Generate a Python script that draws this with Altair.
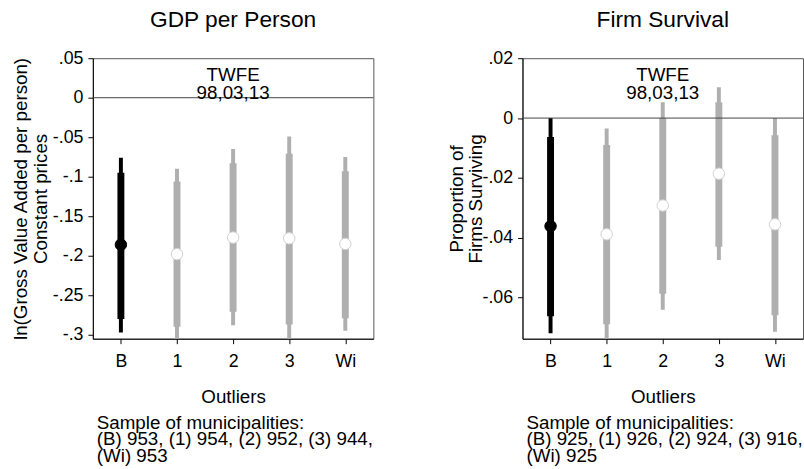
import altair as alt
import pandas as pd

cats = ["B", "1", "2", "3", "Wi"]
groups = ["base", "alt", "alt", "alt", "alt"]

# GDP per Person
gdp_coef = [-0.186, -0.198, -0.177, -0.178, -0.185]
gdp_lo95 = [-0.297, -0.307, -0.288, -0.308, -0.295]
gdp_hi95 = [-0.076, -0.090, -0.065, -0.049, -0.075]
gdp_lo90 = [-0.280, -0.290, -0.271, -0.287, -0.279]
gdp_hi90 = [-0.095, -0.106, -0.083, -0.071, -0.093]
gdp_ticks = [0.05, 0, -0.05, -0.1, -0.15, -0.2, -0.25, -0.3]
gdp_domain = [-0.305, 0.05]
gdp_notes = ["Sample of municipalities:", " (B) 953, (1) 954, (2) 952, (3) 944,", " (Wi) 953"]

# Firm Survival
firm_coef = [-0.0361, -0.0388, -0.0292, -0.0186, -0.0355]
firm_lo95 = [-0.0719, -0.0742, -0.0640, -0.0474, -0.0714]
firm_hi95 = [0.0000, -0.0035, 0.0053, 0.0103, 0.0000]
firm_lo90 = [-0.0662, -0.0689, -0.0587, -0.0430, -0.0659]
firm_hi90 = [-0.0063, -0.0090, 0.0000, 0.0053, -0.0057]
firm_ticks = [0.02, 0, -0.02, -0.04, -0.06]
firm_domain = [-0.0737, 0.02]
firm_notes = ["Sample of municipalities:", " (B) 925, (1) 926, (2) 924, (3) 916,", " (Wi) 925"]

annot = ["TWFE", "98,03,13"]
FONT = "Liberation Sans"
GREY = "#afafaf"
W = 284
H = 284


def panel(title, ytitle, coef, lo95, hi95, lo90, hi90, domain, ticks, notes, title_x, title_lh):
    df = pd.DataFrame({"cat": cats, "grp": groups, "coef": coef,
                       "lo95": lo95, "hi95": hi95, "lo90": lo90, "hi90": hi90})
    yscale = alt.Scale(domain=domain, nice=False, zero=False)
    xenc = alt.X("cat:N", sort=cats, scale=alt.Scale(type="point", padding=0.5),
                 axis=alt.Axis(title="Outliers", labelAngle=0, titleY=59,
                               titleBaseline="middle"))
    color = alt.Color("grp:N", scale=alt.Scale(domain=["base", "alt"], range=["black", GREY]),
                      legend=None)
    yaxis = alt.Axis(values=ticks, title=ytitle, format=".2~f",
                     labelExpr="replace(replace(datum.label, '0.', '.'), '\u2212', '-')",
                     titleX=title_x, titleBaseline="middle", titleLineHeight=title_lh)
    base = alt.Chart(df)
    thin = base.mark_rule(strokeWidth=4, clip=True).encode(
        x=xenc, y=alt.Y("lo95:Q", scale=yscale, axis=yaxis), y2="hi95:Q", color=color)
    thick = base.mark_rule(strokeWidth=7, clip=True).encode(
        x=xenc, y=alt.Y("lo90:Q", scale=yscale), y2="hi90:Q", color=color)
    zero = alt.Chart(pd.DataFrame({"v": [0]})).mark_rule(color="#444", strokeWidth=1).encode(
        y=alt.Y("v:Q", scale=yscale))
    pts = base.mark_circle(size=135, opacity=1, strokeWidth=1).encode(
        x=xenc, y=alt.Y("coef:Q", scale=yscale),
        fill=alt.Fill("grp:N", scale=alt.Scale(domain=["base", "alt"], range=["black", "white"]), legend=None),
        stroke=alt.Stroke("grp:N", scale=alt.Scale(domain=["base", "alt"], range=["black", "#d0d0d0"]), legend=None))
    one = alt.Chart(pd.DataFrame({"a": [0]}))
    txt = one.mark_text(fontSize=19, lineHeight=18.5, baseline="middle", align="center", color="black").encode(
        x=alt.value(W / 2), y=alt.value(17), text=alt.value(annot))
    note = one.mark_text(fontSize=19, lineHeight=17, baseline="middle", align="left", color="black").encode(
        x=alt.value(4), y=alt.value(369), text=alt.value(notes))
    return alt.layer(thin, thick, zero, pts, txt, note).properties(
        width=W, height=H,
        title=alt.Title(title, fontSize=23, fontWeight="normal", anchor="middle", offset=18, color="black"))


left = panel("GDP per Person", ["ln(Gross Value Added per person)", "Constant prices"],
             gdp_coef, gdp_lo95, gdp_hi95, gdp_lo90, gdp_hi90, gdp_domain, gdp_ticks, gdp_notes,
             -73, 20)
right = panel("Firm Survival", ["Proportion of", "Firms Surviving"],
              firm_coef, firm_lo95, firm_hi95, firm_lo90, firm_hi90, firm_domain, firm_ticks, firm_notes,
              -67, 19)

chart = alt.hconcat(left, right, spacing=151, bounds="flush").configure(
    font=FONT, padding={"left": 11, "top": 5, "right": 0, "bottom": 0}
).configure_view(stroke="#555", strokeWidth=1).configure_axis(
    grid=False, domainColor="black", domainWidth=1, tickColor="black", tickSize=5,
    labelFont=FONT, labelFontSize=18, labelColor="black", labelPadding=5,
    titleFont=FONT, titleFontSize=19, titleFontWeight="normal", titleColor="black"
).configure_axisX(labelPadding=9).configure_title(font=FONT)

chart.save("out.html", embed_options={"renderer": "svg", "actions": False})
